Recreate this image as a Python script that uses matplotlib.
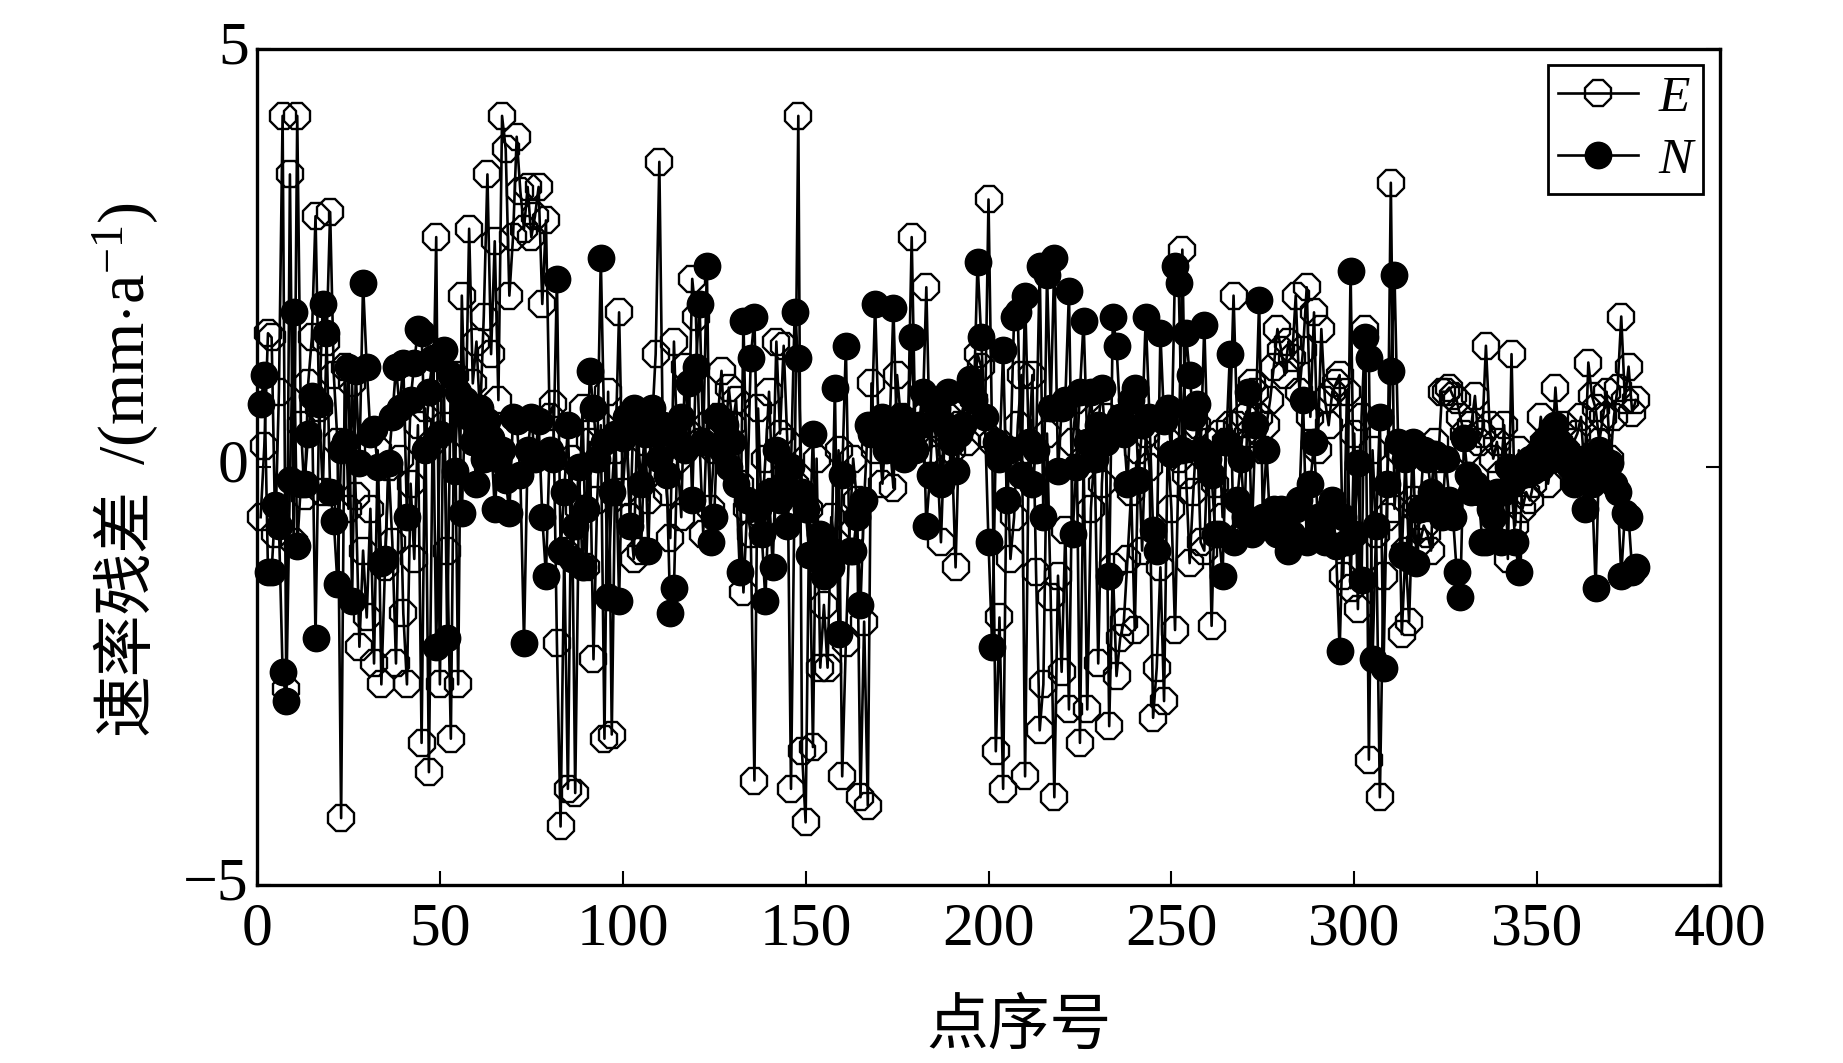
import numpy as np
import matplotlib
matplotlib.use("Agg")
import matplotlib.pyplot as plt
from matplotlib.transforms import ScaledTranslation

plt.rcParams['font.family'] = ['Liberation Serif', 'Noto Sans CJK SC']
plt.rcParams['mathtext.fontset'] = 'custom'
plt.rcParams['mathtext.rm'] = 'Liberation Serif'
plt.rcParams['mathtext.it'] = 'Liberation Serif:italic'

# values, point by point
E = [-0.6,0.25,1.6,1.55,-0.8,0.9,4.2,-2.65,3.5,-0.9,
     4.2,0.5,-0.35,1.0,1.55,3.0,0.7,-0.3,1.5,3.05,
     1.1,0.3,-4.2,1.2,-0.5,1.0,-0.35,-2.15,-1.0,-1.8,
     -0.5,-2.35,0.2,-2.6,-1.2,0.0,-0.9,-2.35,0.1,-1.75,
     -2.6,-0.2,-1.1,0.5,-3.3,0.7,-3.65,0.3,2.75,-2.6,
     0.8,-1.0,-3.25,1.1,-2.6,2.05,0.4,2.85,1.0,1.5,
     0.6,1.8,3.5,1.35,2.7,0.8,4.2,3.8,2.05,2.75,
     3.95,3.3,2.85,3.35,2.75,3.0,3.35,1.95,2.95,0.6,
     0.75,-2.1,-4.3,-1.0,-3.85,0.1,-3.9,-0.5,0.7,-1.2,
     0.3,-2.3,-0.4,0.5,-3.25,0.9,-3.2,0.2,1.85,-0.3,
     0.4,-0.6,-1.1,0.6,-1.0,0.3,-0.4,0.5,1.35,3.65,
     0.2,-0.3,-0.85,1.5,0.1,-0.6,1.2,0.4,2.25,1.8,
     0.3,-0.8,0.5,-0.5,0.2,0.6,1.15,0.3,0.95,0.5,
     0.8,-0.2,-1.5,-0.5,-0.8,-3.75,0.7,-0.6,0.1,0.9,
     -0.3,1.5,0.4,1.45,0.3,-3.85,-0.2,4.2,-3.4,-4.25,
     -0.5,-3.35,0.1,-2.4,-1.65,-2.4,-0.6,-0.9,0.2,-3.7,
     -2.1,-0.8,0.1,-0.4,-3.95,-1.85,-4.05,1.0,0.2,0.4,
     -0.2,0.5,0.3,-0.25,1.1,0.6,0.3,0.5,2.75,0.4,
     0.3,0.6,2.15,0.2,0.7,0.1,-0.9,0.4,0.6,0.2,
     -1.2,0.5,0.7,0.3,0.9,0.8,1.35,1.2,0.4,3.2,
     0.3,-3.4,-1.8,-3.85,0.2,-1.1,-0.6,0.5,1.1,-3.7,
     0.2,1.1,-1.25,-3.15,-2.6,0.4,-1.55,-3.95,-1.3,-2.45,
     -0.75,-2.9,0.3,0.8,-3.3,0.1,-2.9,-0.5,0.2,-2.35,
     -0.2,0.6,-3.1,-1.2,-2.5,-2.05,-1.85,-1.1,-0.3,-1.95,
     0.2,-1.0,0.4,0.0,-3.0,-2.4,-1.2,-2.8,0.3,-0.5,
     -1.95,0.1,2.6,-0.1,-1.15,-0.3,0.5,-0.9,-1.0,0.3,
     -1.9,-0.2,0.4,-0.6,0.3,0.5,2.05,0.5,0.2,0.6,
     0.4,1.0,0.9,0.6,0.2,0.5,0.8,1.2,1.65,1.4,
     1.1,1.5,1.3,2.05,0.9,1.4,2.15,0.6,1.85,0.2,
     1.65,0.8,0.5,0.9,1.0,1.1,-1.3,0.9,-1.45,0.4,
     -1.7,0.6,1.65,-3.5,0.2,-0.8,-3.95,-1.3,-0.6,3.4,
     -0.5,0.2,-2.0,-1.0,-1.85,-0.4,-0.5,-0.9,-0.7,-0.8,
     -1.0,0.3,0.1,0.9,0.9,0.95,0.85,0.8,0.6,0.4,
     0.2,0.5,0.85,0.3,0.4,1.45,0.5,0.1,0.3,-0.1,
     0.5,-1.1,1.35,-0.7,0.2,-0.5,-0.3,-0.4,-0.2,0.1,
     0.6,0.3,-0.2,0.1,0.95,0.3,0.5,0.2,0.1,0.3,
     0.4,0.6,-0.1,1.25,0.85,0.7,0.3,0.6,0.9,0.1,
     0.6,0.95,1.8,0.8,1.2,0.65,0.8]

N = [0.75,1.1,-1.25,-1.25,-0.45,-0.7,-2.45,-2.8,-0.15,1.85,
     -0.95,-0.2,-0.2,0.4,0.85,-2.05,0.75,1.95,1.6,-0.3,
     -0.65,-1.4,0.2,0.3,1.2,-1.6,1.15,0.05,2.2,1.2,
     0.4,0.45,0.0,-1.15,-1.1,0.05,0.6,1.2,0.7,1.25,
     -0.6,0.8,1.25,1.65,1.6,0.2,0.9,1.3,-2.15,0.4,
     1.4,-2.05,1.1,-0.05,0.9,-0.55,0.8,0.6,0.3,-0.2,
     0.7,0.1,0.55,0.35,-0.5,0.1,0.2,-0.15,-0.55,0.6,
     0.55,-0.1,-2.1,0.2,0.6,0.1,0.55,-0.6,-1.3,0.2,
     0.1,2.25,-1.0,-0.3,0.5,-1.1,-0.7,0.0,-1.2,-0.5,
     1.15,0.7,0.1,2.5,0.3,-1.55,-0.3,0.4,-1.6,0.35,
     0.6,-0.7,0.7,0.5,-0.2,0.4,-1.0,0.7,0.4,0.1,
     0.5,-0.1,-1.75,-1.45,0.3,0.6,0.2,1.0,-0.4,1.2,
     1.95,0.3,2.4,-0.9,-0.6,0.6,0.2,0.5,0.0,0.3,
     -0.2,-1.25,1.75,-0.4,1.3,1.8,-0.5,-0.8,-1.6,-0.3,
     -1.2,0.2,-0.4,-0.2,-0.7,0.0,1.85,1.3,-0.3,-0.5,
     -1.05,0.4,-1.1,-0.8,-1.3,-1.0,-1.2,0.95,-2.0,-0.1,
     1.45,-1.0,-1.0,-0.6,-1.65,-0.4,0.5,0.4,1.95,0.4,
     0.6,0.2,0.5,1.9,0.3,0.6,0.1,0.5,1.55,0.2,
     0.5,0.9,-0.7,-0.1,0.8,0.7,-0.2,0.5,0.9,0.3,
     -0.05,0.4,0.5,0.9,1.05,0.8,2.45,1.55,0.6,-0.9,
     -2.15,0.3,0.1,1.4,-0.4,0.2,1.8,1.85,-0.1,2.05,
     0.3,-0.2,0.2,2.4,-0.6,2.3,0.7,2.5,-0.05,0.7,
     0.8,2.1,-0.8,0.0,0.9,1.75,0.3,0.9,0.1,0.5,
     0.95,0.3,-1.3,1.8,1.45,0.6,0.4,-0.2,0.8,0.95,
     -0.15,0.5,1.8,0.6,-0.75,-1.0,1.6,0.55,0.7,0.15,
     2.4,2.2,0.2,1.6,1.1,0.6,0.75,0.2,1.7,0.1,
     -0.1,-0.8,-0.8,-1.3,0.3,1.35,-0.9,-0.4,0.1,-0.6,
     0.9,-0.8,0.5,2.0,-0.6,0.2,-0.7,-0.5,-0.8,-0.5,
     -0.6,-1.0,-0.8,-0.5,-0.4,0.8,-0.9,-0.2,0.3,-0.6,
     -0.7,-0.9,-0.5,-0.4,-0.95,-2.2,-0.6,-0.9,2.35,-0.8,
     0.05,-1.35,1.55,1.3,-2.3,-0.7,0.6,-2.4,-0.2,1.15,
     2.3,0.3,-1.05,0.1,-1.1,0.3,-1.15,-0.5,0.2,0.1,
     -0.3,0.15,-0.5,-0.6,0.1,-0.4,-0.6,-1.25,-1.55,0.35,
     -0.1,-0.3,-0.2,-0.3,-0.9,-0.9,-0.5,-0.6,-0.3,-0.9,
     -0.3,0.0,-0.2,-0.9,-1.25,-0.1,0.05,0.1,-0.05,0.15,
     0.0,0.3,0.1,0.45,0.5,0.3,0.1,0.2,0.0,-0.2,
     0.1,0.05,-0.5,0.1,-0.2,-1.45,0.2,0.1,-0.1,0.05,
     -0.2,-0.3,-1.3,-0.55,-0.6,-1.25,-1.2]

xticks = [0, 50, 100, 150, 200, 250, 300, 350, 400]
yticks = [-5, 0, 5]
ylabels = ['\u22125', '0', '5']

W, H = 1843, 1063
fig = plt.figure(figsize=(W / 100, H / 100), dpi=100)
ax = fig.add_axes([257 / W, 1 - 885 / H, (1720 - 257) / W, (885 - 49) / H])

ax.plot(np.arange(1, len(E) + 1), E, color='black', lw=1.9, marker='8', ms=20,
        mfc='none', mec='black', mew=1.7, label='E', clip_on=False)
ax.plot(np.arange(1, len(N) + 1), N, color='black', lw=1.9, marker='o', ms=19,
        mfc='black', mec='black', mew=1.0, label='N', clip_on=False)

ax.set_xlim(0, 400)
ax.set_ylim(-5, 5)
ax.set_xticks(xticks)
ax.set_yticks(yticks)
ax.set_yticklabels(ylabels)
ax.tick_params(axis='both', direction='in', length=10, width=1.5, labelsize=44.5)
ax.tick_params(axis='x', pad=12)
ax.tick_params(axis='y', pad=6, right=True)
for s in ax.spines.values():
    s.set_linewidth(2.4)

# y tick labels sit a little higher than the ticks in the original
for lab in ax.get_yticklabels():
    lab.set_transform(lab.get_transform() + ScaledTranslation(0, 5 / 72, fig.dpi_scale_trans))

# y label is two pieces so the Chinese and the exponent sit where they should
fig.text(125 / W, 1 - 735 / H, '速率残差', rotation=90, ha='center', va='bottom',
         fontsize=44.5, family='Noto Sans CJK SC')
fig.text(125 / W, 1 - 465 / H, r'/(mm$\cdot$a$^{-1}$)', rotation=90, ha='center',
         va='bottom', fontsize=47.5)
fig.text(1019 / W, 1 - 1026 / H, '点序号', ha='center', va='center',
         fontsize=44.5, family='Noto Sans CJK SC')

leg = ax.legend(loc='upper right', bbox_to_anchor=(1703 / W, 1 - 65 / H),
                bbox_transform=fig.transFigure, borderaxespad=0, fancybox=False,
                framealpha=1, edgecolor='black', handlelength=1.55, handletextpad=0.4,
                labelspacing=0.28, borderpad=0.2,
                prop={'family': 'Liberation Serif', 'style': 'italic', 'size': 37})
leg.get_frame().set_linewidth(2.0)

fig.savefig('out.png', dpi=100)
